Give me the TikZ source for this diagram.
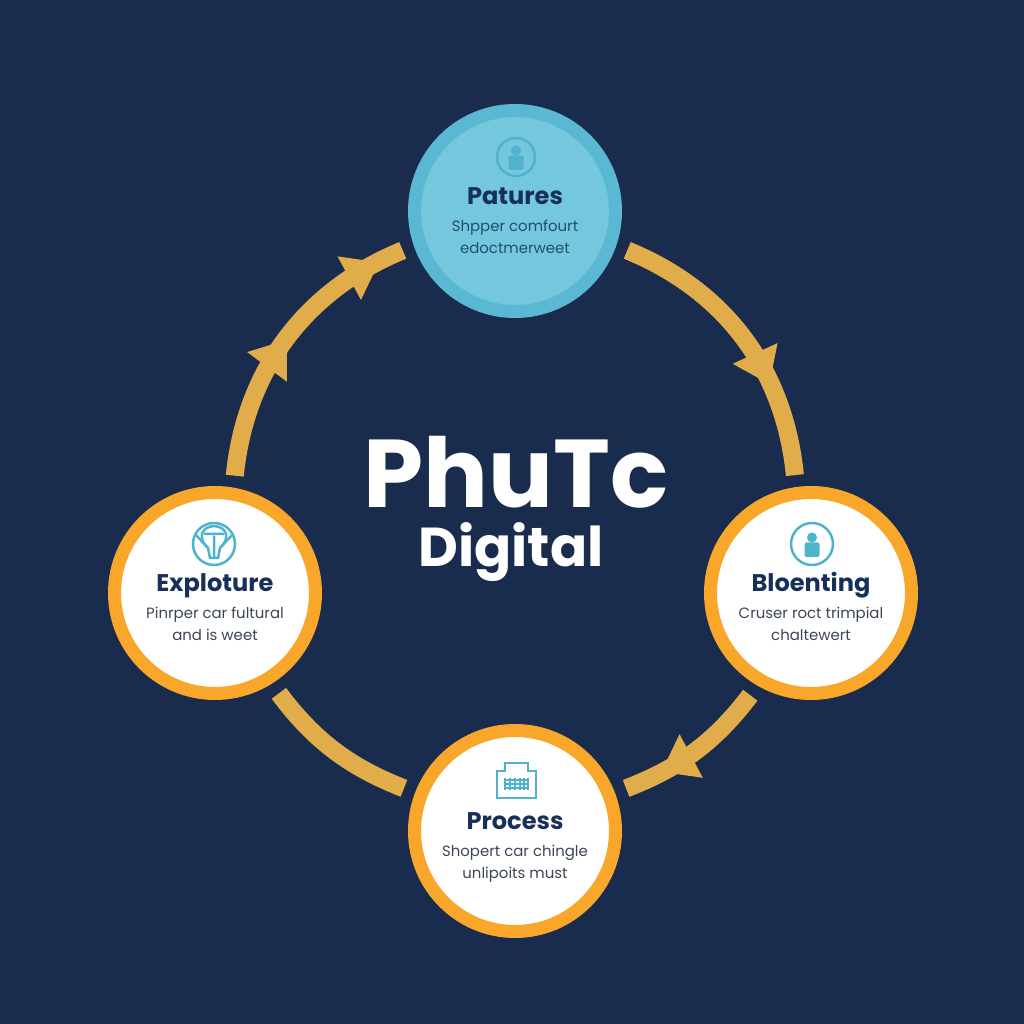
\documentclass[tikz,border=0pt]{standalone}
\usepackage{fontspec}
\setmainfont{Poppins}
\usetikzlibrary{arrows.meta,decorations.markings}
\definecolor{bgnavy}{HTML}{1A2C4E}
\definecolor{ringgold}{HTML}{E1AD4A}
\definecolor{edgeorange}{HTML}{F9A72B}
\definecolor{skyouter}{HTML}{5BB8D2}
\definecolor{skyinner}{HTML}{74C7DC}
\definecolor{iconblue}{HTML}{4FB3CE}
\definecolor{titleink}{HTML}{16305A}
\definecolor{bodyink}{HTML}{3C4656}
\definecolor{skybody}{HTML}{1F4F70}
\tikzset{
	orangebubble/.style={draw=edgeorange, fill=white, shape=circle, line width=.13cm, minimum size=2.01cm, inner sep=0},
	bluebubble/.style={draw=skyouter, fill=skyinner, shape=circle, line width=.13cm, minimum size=2.01cm, inner sep=0},
	titletext/.style={text=titleink, font=\bfseries\fontsize{6.85}{8}\selectfont, anchor=mid, inner sep=0},
	orangebubbletext/.style={text=bodyink, font=\fontsize{4.25}{5}\selectfont, anchor=mid, inner sep=0},
	bluebubbletext/.style={text=skybody, font=\fontsize{4.25}{5}\selectfont, anchor=mid, inner sep=0},
	ringarc/.style={draw=ringgold, line width=.18cm, shorten <=.12cm, shorten >=.12cm},
	ringtip/.style={postaction={decorate, decoration={markings, mark=at position #1 with {\arrow[ringgold]{Triangle[length=.34cm, width=.47cm]}}}}},
	iconline/.style={draw=iconblue, line width=.025cm}
}
\begin{document}
\begin{tikzpicture}
	\useasboundingbox (0,0) rectangle (10.24,10.24);
	\fill[bgnavy] (0,0) rectangle (10.24,10.24);
	\foreach \name/\x/\y/\d/\kind/\title/\lineA/\lineB in {
		patures/5.15/8.13/.05/bluebubble/Patures/Shpper comfourt/edoctmerweet,
		bloenting/8.11/4.31/0/orangebubble/Bloenting/Cruser roct trimpial/chaltewert,
		process/5.15/1.93/0/orangebubble/Process/Shopert car chingle/unlipoits must,
		exploture/2.15/4.31/0/orangebubble/Exploture/Pinrper car fultural/and is weet}
		{
			\node[\kind] (\name) at (\x,\y){};
			\node[titletext] (\name title) at (\x,\y+.11+\d){\title};
			\node[\kind text] (\name lineA) at (\x,\y-.16+\d){\lineA};
			\node[\kind text] (\name lineB) at (\x,\y-.38+\d){\lineB};
		}
	\node[text=white, font=\bfseries\fontsize{27.4}{30}\selectfont, inner sep=0] (brand) at (5.16,5.52){PhuTc};
	\node[text=white, font=\bfseries\fontsize{15.6}{18}\selectfont, inner sep=0] (brandsub) at (5.11,4.72){Digital};
	% arcs round the ring
	\draw[ringarc, ringtip=.665] (patures.-19) to[bend left=31] (bloenting.98);
	\draw[ringarc, ringtip=.72] (bloenting.-120) to[bend left=16] (process.21);
	\draw[ringarc] (process.159) to[bend left=16] (exploture.-58);
	\draw[ringarc, ringtip=.50, ringtip=.88] (exploture.80) to[bend left=31] (patures.199);
	% person icons
	\foreach \x/\y/\r in {5.16/8.67/.19, 8.12/4.80/.21}
		{
			\draw[iconline] (\x,\y) circle (\r);
			\fill[iconblue] (\x,\y+.065) circle (.05);
			\fill[iconblue, rounded corners=.02cm] (\x-.075,\y-.13) rectangle (\x+.075,\y+.015);
		}
	% bulb icon
	\draw[iconline] (2.14,4.80) circle (.21);
	\draw[iconline] (2.10,4.66) -- (2.08,4.76) .. controls (1.98,4.85) and (2.00,4.97) .. (2.14,4.98) .. controls (2.28,4.97) and (2.30,4.85) .. (2.20,4.76) -- (2.18,4.66) -- cycle;
	\draw[iconline] (1.95,4.90) -- (2.08,4.76) (2.33,4.90) -- (2.20,4.76) (2.14,4.66) -- (2.14,4.88) (2.04,4.90) -- (2.24,4.90);
	% building icon
	\draw[iconline] (4.97,2.53) -- (5.05,2.53) -- (5.05,2.61) -- (5.28,2.61) -- (5.28,2.53) -- (5.36,2.53) -- (5.36,2.26) -- (4.97,2.26) -- cycle;
	\foreach \x in {5.05,5.10,5.15,5.20,5.24,5.28}
		\draw[iconline, line width=.015cm] (\x,2.46) -- (\x,2.34);
	\foreach \y in {2.36,2.40,2.44}
		\draw[iconline, line width=.015cm] (5.04,\y) -- (5.29,\y);
\end{tikzpicture}
\end{document}
